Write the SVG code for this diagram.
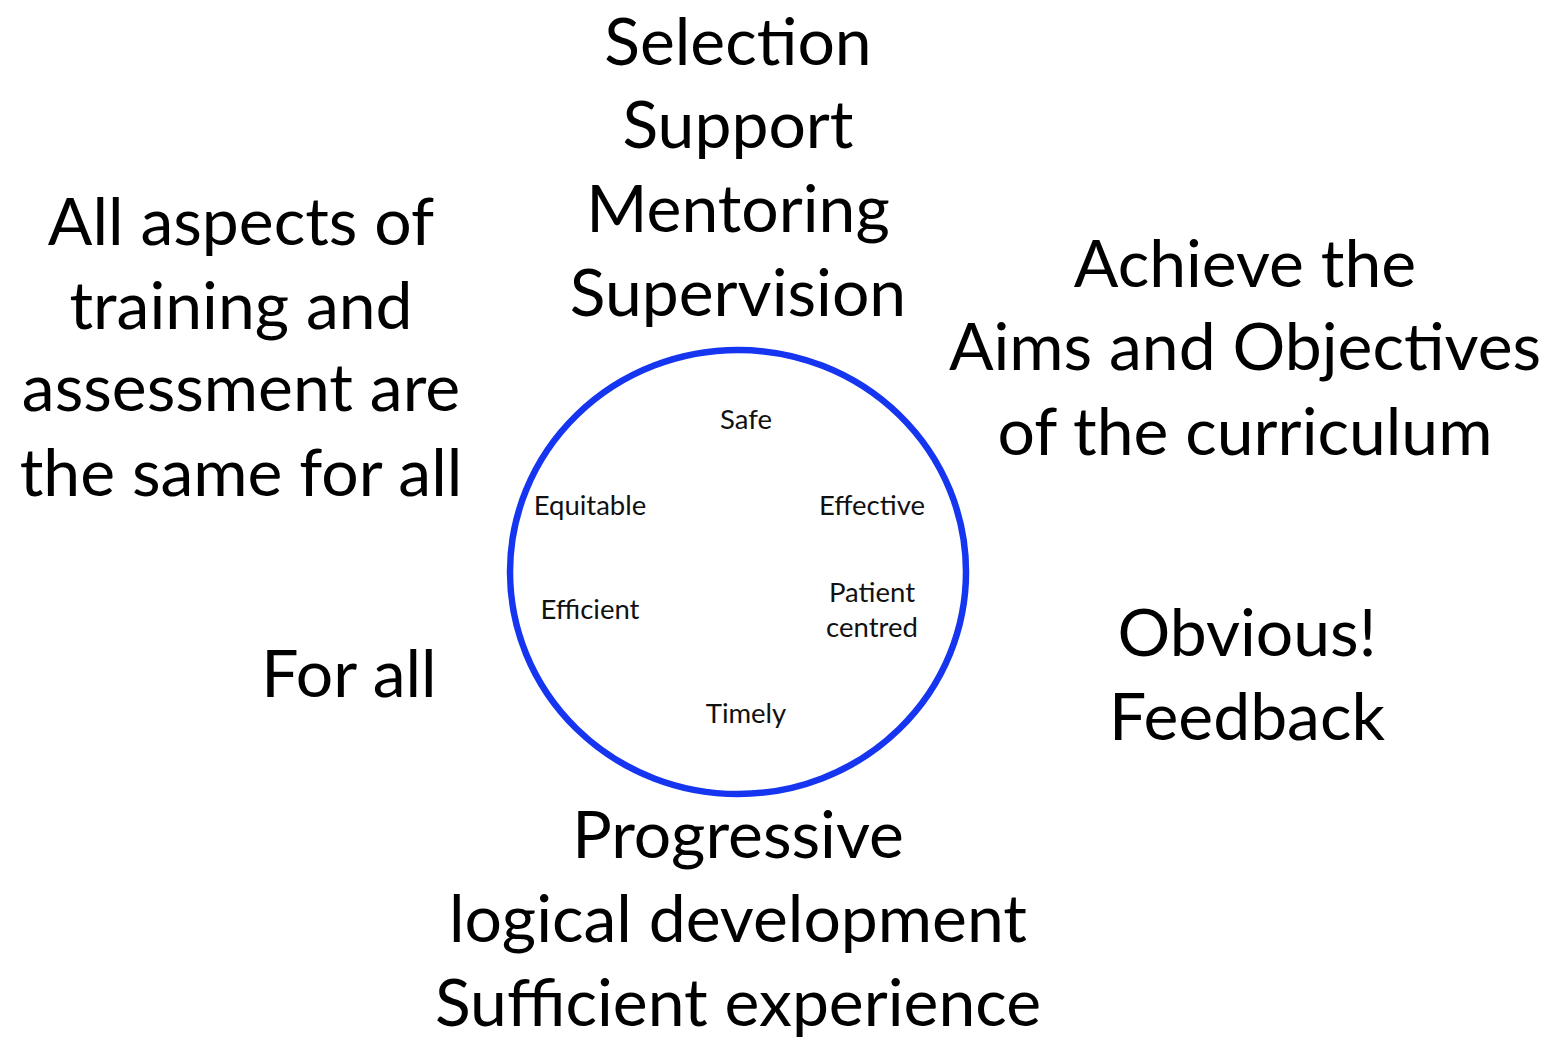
<svg xmlns="http://www.w3.org/2000/svg" width="1547" height="1039" viewBox="0 0 1547 1039">
<style>
.big{font-family:Lato,"Open Sans",sans-serif;font-size:66px;fill:#000;text-anchor:middle}
.small{font-family:Lato,"Open Sans",sans-serif;font-size:27.5px;fill:#111;text-anchor:middle}
.ring{fill:none;stroke:#1535f0;stroke-width:6.5}
</style>
<rect width="1547" height="1039" fill="#fff"/>
<g id="connectors"></g>
<g id="circle-node">
<ellipse class="ring" cx="738" cy="572" rx="228" ry="222"/>
<text class="small" x="746" y="429">Safe</text>
<text class="small" x="590" y="515">Equitable</text>
<text class="small" x="872" y="515">Effective</text>
<text class="small" x="590" y="619">Efficient</text>
<text class="small" x="872" y="602">Patient</text>
<text class="small" x="872" y="637">centred</text>
<text class="small" x="746" y="723">Timely</text>
</g>
<g id="top-text">
<text class="big" x="738" y="65">Selection</text>
<text class="big" x="738" y="148">Support</text>
<text class="big" x="738" y="232">Mentoring</text>
<text class="big" x="738" y="316">Supervision</text>
</g>
<g id="left-text">
<text class="big" x="241" y="245">All aspects of</text>
<text class="big" x="241" y="329">training and</text>
<text class="big" x="241" y="411">assessment are</text>
<text class="big" x="241" y="496">the same for all</text>
</g>
<g id="forall-text">
<text class="big" x="349" y="697">For all</text>
</g>
<g id="right-text">
<text class="big" x="1245" y="287">Achieve the</text>
<text class="big" x="1245" y="370">Aims and Objectives</text>
<text class="big" x="1245" y="455">of the curriculum</text>
</g>
<g id="feedback-text">
<text class="big" x="1247" y="656">Obvious!</text>
<text class="big" x="1247" y="740">Feedback</text>
</g>
<g id="bottom-text">
<text class="big" x="738" y="858">Progressive</text>
<text class="big" x="738" y="942">logical development</text>
<text class="big" x="738" y="1026">Sufficient experience</text>
</g>
</svg>
